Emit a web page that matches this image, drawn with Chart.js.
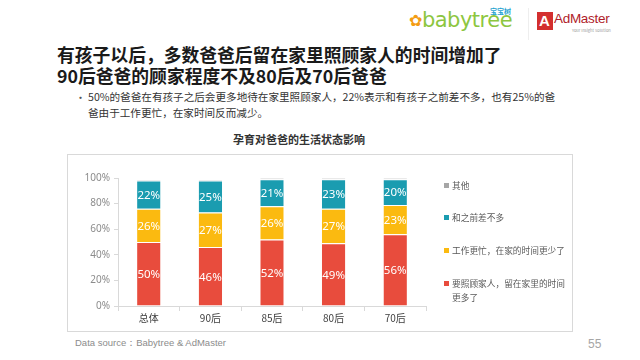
<!DOCTYPE html>
<html><head><meta charset="utf-8">
<script src="https://cdn.jsdelivr.net/npm/chart.js@4/dist/chart.umd.min.js"></script>
<style>
html,body{margin:0;padding:0;background:#fff;width:640px;height:360px;overflow:hidden;font-family:"Noto Sans CJK SC","Noto Sans",sans-serif;}
.abs{position:absolute;white-space:nowrap;}
#title1,#title2{left:57px;font-size:17.8px;font-weight:bold;color:#1a1a1a;line-height:20px;}
#title1{top:44px}#title2{top:65px}
.bul{left:88px;font-size:10.6px;color:#333;line-height:14px;}
#frame{position:absolute;left:67px;top:154px;width:504px;height:176px;border:1px solid #d9d9d9;box-sizing:content-box;}
#chartTitle{left:0;width:598px;text-align:center;top:131px;font-size:11px;font-weight:bold;color:#333;}
.lg{position:absolute;left:444px;font-size:8.7px;color:#595959;line-height:13.5px;white-space:nowrap;}
.lg i{position:absolute;left:0;top:4px;width:5px;height:5px;}
.lg span{position:absolute;left:8px;top:0;}
</style></head><body>
<!-- logos -->
<div class="abs" style="left:409px;top:8px;font-family:'DejaVu Sans',sans-serif;font-size:21px;color:#8dc63f;letter-spacing:-0.5px;">
<span style="color:#f39c12;font-size:16px;position:relative;top:-1px;">&#10047;</span>babytree</div>
<div class="abs" style="left:490px;top:6px;font-size:7px;color:#29a3d0;font-weight:bold;">宝宝树</div>
<div class="abs" style="left:528px;top:8px;width:1px;height:32px;background:#eee;"></div>
<div class="abs" style="left:537px;top:12px;width:16px;height:18px;background:#d32f2f;"></div>
<div class="abs" style="left:539px;top:12px;color:#fff;font-size:15px;font-weight:bold;font-family:'Liberation Sans',sans-serif;">A</div>
<div class="abs" style="left:554px;top:11px;color:#b01c2a;font-size:13.5px;font-family:'Liberation Sans',sans-serif;letter-spacing:-0.3px;">AdMaster</div>
<div class="abs" style="left:572px;top:27px;color:#999;font-size:4px;">Your Insight Solution</div>

<div id="title1" class="abs">有孩子以后，多数爸爸后留在家里照顾家人的时间增加了</div>
<div id="title2" class="abs">90后爸爸的顾家程度不及80后及70后爸爸</div>
<div class="abs" style="left:75px;top:89px;font-size:11px;color:#555;">•</div>
<div class="abs bul" style="top:90px;">50%的爸爸在有孩子之后会更多地待在家里照顾家人，22%表示和有孩子之前差不多，也有25%的爸</div>
<div class="abs bul" style="top:106px;">爸由于工作更忙，在家时间反而减少。</div>
<div id="chartTitle" class="abs">孕育对爸爸的生活状态影响</div>
<div id="frame"></div>
<canvas id="c" width="505" height="177" style="position:absolute;left:67px;top:154px;width:505px;height:177px;"></canvas>
<div id="legend"></div>
<div class="abs" style="left:75px;top:337px;font-size:9.5px;color:#8c8c8c;font-family:'Liberation Sans',sans-serif;">Data source：Babytree &amp; AdMaster</div>
<div class="abs" style="left:588px;top:337px;font-size:12px;color:#a6a6a6;font-family:'Liberation Sans',sans-serif;">55</div>
<script>
const categories = ["总体", "90后", "85后", "80后", "70后"];
const moreTime = [50, 46, 52, 49, 56];      // 要照顾家人，留在家里的时间更多了
const lessTime = [26, 27, 26, 27, 23];      // 工作更忙，在家的时间更少了
const same = [22, 25, 21, 23, 20];          // 和之前差不多
const other = [1, 1, 1, 1, 1];              // 其他
const seriesNames = ["要照顾家人，留在家里的时间更多了", "工作更忙，在家的时间更少了", "和之前差不多", "其他"];
const seriesColors = ["#E84C3D", "#FBBA10", "#1A9CB0", "#A6A6A6"];
const yTicks = [0, 20, 40, 60, 80, 100];

const seriesData = [moreTime, lessTime, same, other];
const datasets = seriesData.map((d, i) => ({
  label: seriesNames[i], data: d, backgroundColor: seriesColors[i],
  borderColor: "#ffffff", borderWidth: {top: 1, bottom: 0, left: 0, right: 0}, borderSkipped: false,
  categoryPercentage: 1, barPercentage: 0.38, showLabel: i < 3
}));

const labelPlugin = {
  id: "segLabels",
  afterDatasetsDraw(chart) {
    const ctx = chart.ctx;
    ctx.save();
    ctx.fillStyle = "#ffffff";
    ctx.font = "11.5px 'Noto Sans', sans-serif";
    ctx.textAlign = "center"; ctx.textBaseline = "middle";
    chart.data.datasets.forEach((ds, di) => {
      if (!ds.showLabel) return;
      chart.getDatasetMeta(di).data.forEach((el, j) => {
        const p = el.getProps(["x", "y", "base"], true);
        ctx.fillText(ds.data[j] + "%", p.x, (p.y + p.base) / 2 + 1);
      });
    });
    ctx.restore();
  }
};

new Chart(document.getElementById("c"), {
  type: "bar",
  data: { labels: categories, datasets },
  plugins: [labelPlugin],
  options: {
    responsive: false, animation: false, maintainAspectRatio: false,
    layout: { padding: { top: 24, right: 146, left: 0, bottom: 0 } },
    plugins: { legend: { display: false }, tooltip: { enabled: false } },
    scales: {
      x: {
        stacked: true,
        grid: { display: true, drawOnChartArea: false, drawTicks: true, tickLength: 5, color: "#d9d9d9", offset: true },
        border: { color: "#d9d9d9" },
        ticks: { color: "#404040", font: { size: 10, family: "'Noto Sans CJK SC', sans-serif" }, padding: 1 },
        afterFit: s => { s.height = 25; }
      },
      y: {
        stacked: true, min: 0, max: 100,
        afterBuildTicks: s => { s.ticks = yTicks.map(v => ({ value: v })); },
        grid: { display: true, drawOnChartArea: false, drawTicks: true, tickLength: 4, color: "#d9d9d9" },
        border: { color: "#d9d9d9" },
        ticks: { color: "#8c8c8c", font: { size: 10, family: "'Noto Sans', sans-serif" }, padding: 4, callback: v => v + "%" },
        afterFit: s => { s.width = 51; }
      }
    }
  }
});

// HTML legend built from series arrays (reverse order, like reference)
const legendTops = [179, 211, 244, 277];
const lg = document.getElementById("legend");
[3, 2, 1, 0].forEach((si, k) => {
  const d = document.createElement("div");
  d.className = "lg";
  d.style.top = legendTops[k] + "px";
  let name = seriesNames[si];
  if (name.length > 13) name = name.slice(0, 13) + "<br>" + name.slice(13);
  d.innerHTML = '<i style="background:' + seriesColors[si] + '"></i><span>' + name + '</span>';
  lg.appendChild(d);
});
</script>
</body></html>
